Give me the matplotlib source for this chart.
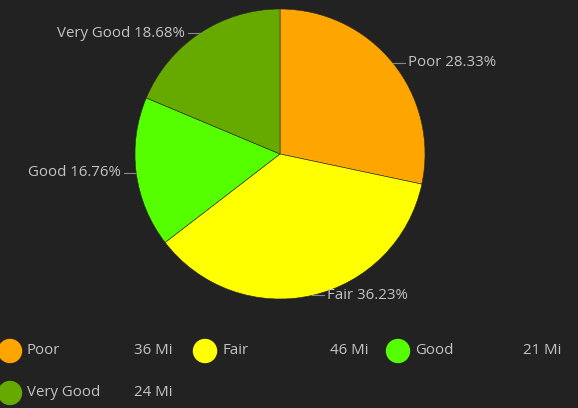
import numpy as np
import matplotlib as mpl
mpl.use("Agg")
import matplotlib.pyplot as plt
from matplotlib.patches import Circle

mpl.rcParams['font.family'] = ['Open Sans', 'DejaVu Sans']

categories = ['Poor', 'Fair', 'Good', 'Very Good']
shares = [28.33, 36.23, 16.76, 18.68]
miles = [36, 46, 21, 24]
colors = ['#FFA500', '#FFFF00', '#55FF00', '#66AA00']

bg = '#222222'
text_color = '#c4c4c4'
fs = 10.8
W, H = 578, 408

fig = plt.figure(figsize=(W / 100, H / 100), dpi=100, facecolor=bg)
ax = fig.add_axes([0, 0, 1, 1])
ax.set_facecolor(bg)

cx, cy, r = 280, H - 154, 145
wedges, _ = ax.pie(shares, colors=colors, startangle=90, counterclock=False,
                   center=(cx, cy), radius=r, frame=True,
                   wedgeprops=dict(edgecolor='#2a2a2a', linewidth=0.4))
ax.set_xlim(0, W)
ax.set_ylim(0, H)
ax.set_aspect('equal')
ax.axis('off')

# slice labels with short horizontal leaders
for w, name, pct in zip(wedges, categories, shares):
    mid = np.deg2rad((w.theta1 + w.theta2) / 2)
    x0 = cx + r * np.cos(mid)
    y0 = cy + r * np.sin(mid)
    right = np.cos(mid) >= 0
    x1 = x0 + (12 if right else -12)
    ax.plot([x0, x1], [y0, y0], color='#888888', lw=0.8)
    ax.text(x1 + (3 if right else -3), y0, f'{name} {pct:.2f}%',
            color=text_color, fontsize=fs,
            ha='left' if right else 'right', va='center')

# legend rows
slots = [(10, 351), (205, 351), (398, 351), (10, 393)]
for (lx, ly), name, mi, c in zip(slots, categories, miles, colors):
    y = H - ly
    ax.add_patch(Circle((lx, y), 11.5, color=c))
    ax.text(lx + 17, y, name, color=text_color, fontsize=fs, va='center')
    ax.text(lx + 163, y, f'{mi} Mi', color=text_color, fontsize=fs,
            va='center', ha='right')

fig.savefig('out.png', dpi=100, facecolor=bg)
